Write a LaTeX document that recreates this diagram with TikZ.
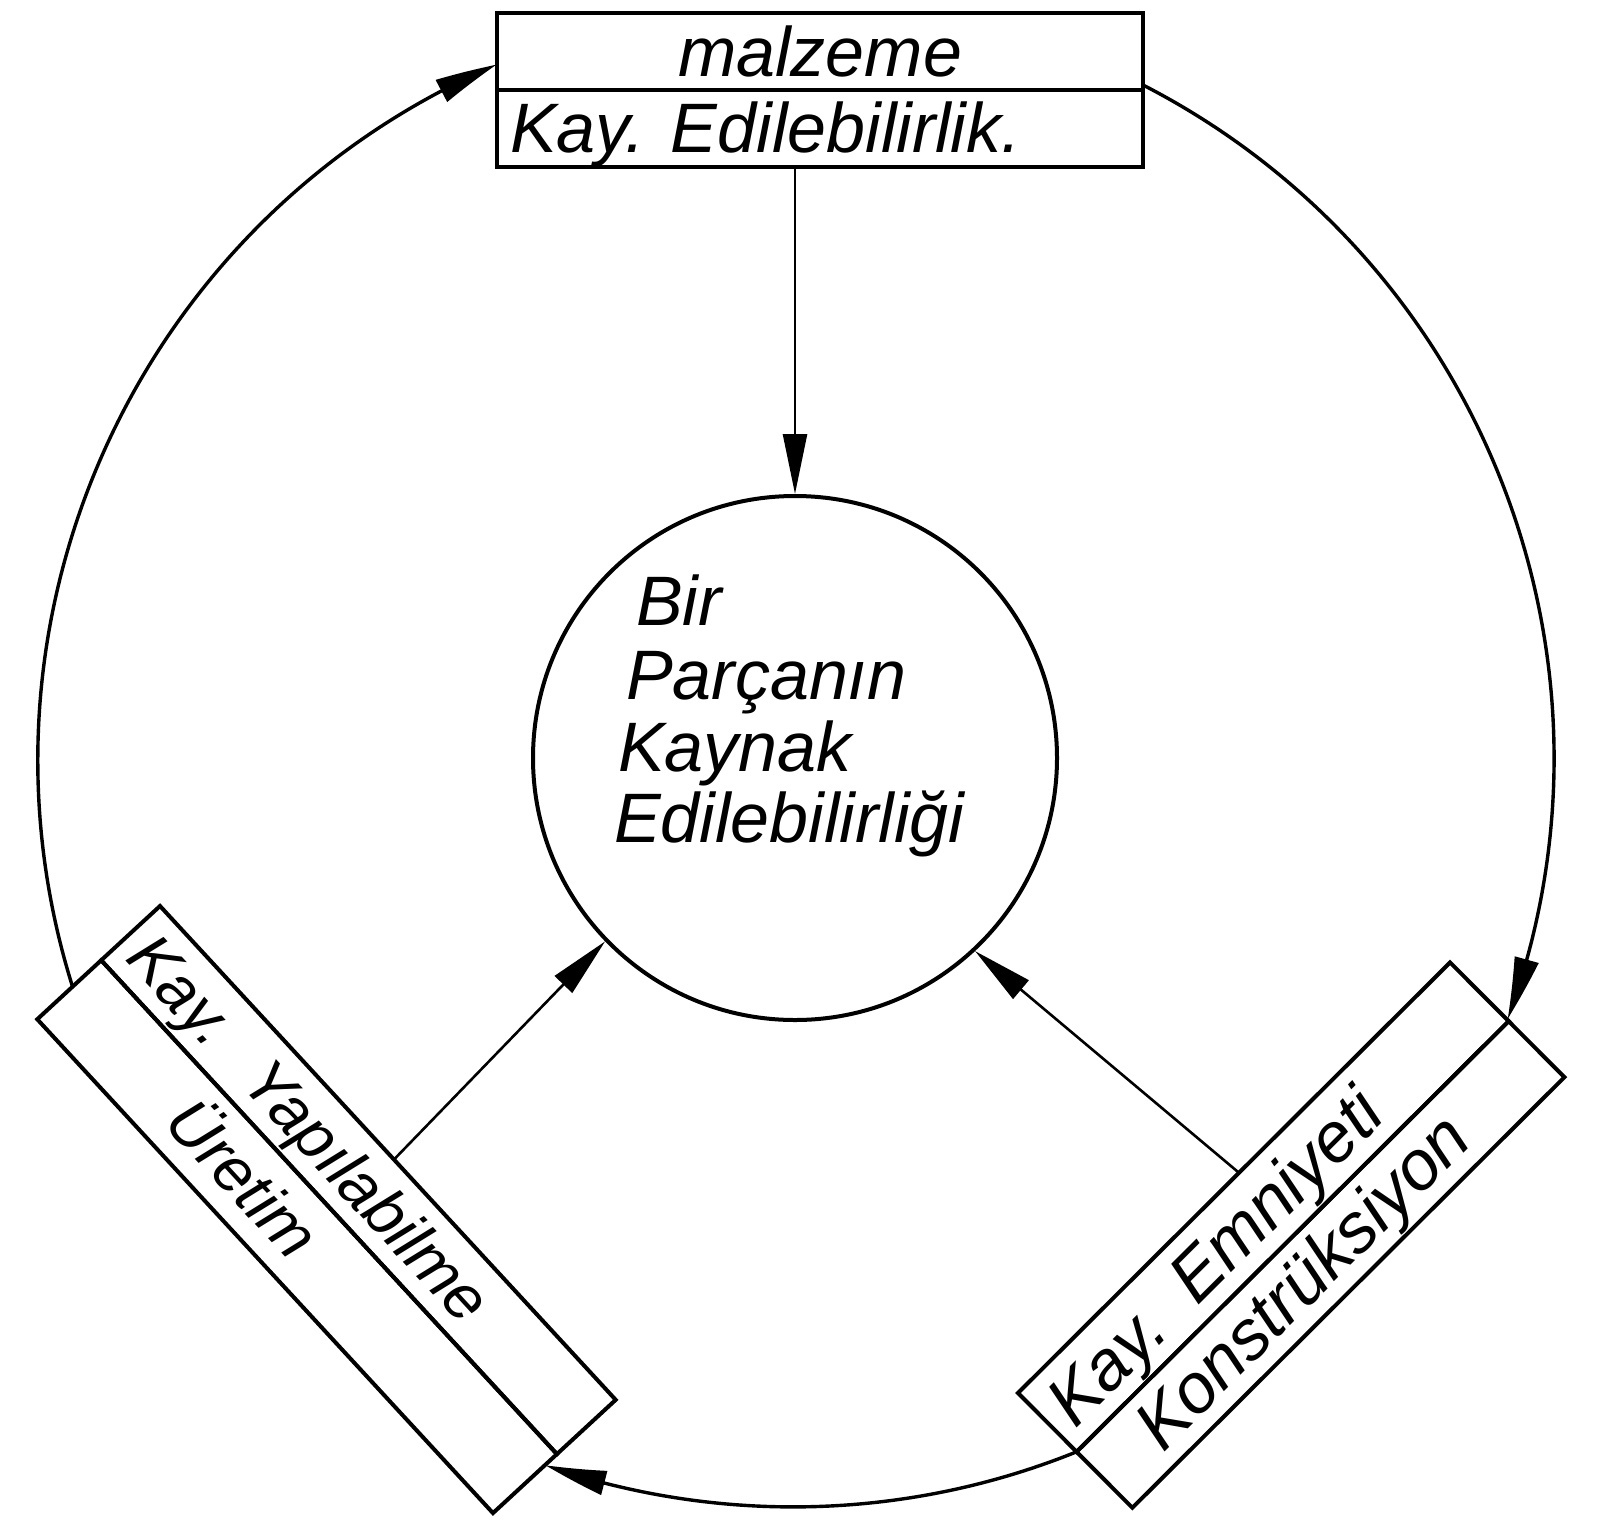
\documentclass[tikz,border=0pt]{standalone}
\usepackage{fontspec}
\setmainfont{Liberation Sans}
\usetikzlibrary{arrows.meta,bending,calc}
\begin{document}
\begin{tikzpicture}[x=1pt,y=-1pt,
  boxline/.style={draw, line width=4pt, inner sep=0pt, outer sep=0pt},
  lbl/.style={inner sep=0pt, font=\itshape\fontsize{70}{70}\selectfont},
  lbls/.style={inner sep=0pt, font=\itshape\fontsize{64}{64}\selectfont},
  conn/.style={line width=2.6pt, -{Triangle[length=60pt,width=24pt]}},
  ring/.style={line width=3.4pt, -{Triangle[length=62pt,width=24pt,bend]}}]
\path[use as bounding box, fill=white] (0,0) rectangle (1601,1534);

% top box
\node[boxline, lbl, minimum width=646pt, minimum height=77pt] (mal) at (820,51.5) {malzeme};
\node[boxline, minimum width=646pt, minimum height=77pt] (ked) at (820,128.5) {};
\node[lbl, anchor=base west] (kedt) at (510,152) {Kay. Edilebilirlik.};

% centre circle
\node[draw, circle, line width=4pt, minimum size=524pt, inner sep=0pt] (inner) at (795,758) {};
\node[lbl, anchor=base west] (c1) at (636,625) {Bir};
\node[lbl, anchor=base west] (c2) at (626,699) {Parçanın};
\node[lbl, anchor=base west] (c3) at (618,771) {Kaynak};
\node[lbl, anchor=base west] (c4) at (614,842) {Edilebilirliği};

% left box
\begin{scope}[shift={(160,906)}, rotate=-47.3]
  \node[boxline, transform shape, anchor=north west, minimum width=672pt, minimum height=80pt] (lyA) at (0,0) {};
  \node[boxline, transform shape, anchor=north west, minimum width=672pt, minimum height=87pt] (lyB) at (0,80) {};
  \node[lbls, transform shape, anchor=base west] (ly1) at (15,63) {Kay.};
  \node[lbls, transform shape, anchor=base west] (ly2) at (185,63) {Yapılabilme};
  \node[lbls, transform shape, anchor=base west] (ly3) at (162,146) {Üretim};
  \coordinate (lyTop) at (0,119);
  \coordinate (lyEnd) at (672,95);
  \coordinate (lyConn) at (345,0);
\end{scope}

% right box
\begin{scope}[shift={(1018,1393)}, rotate=44.9]
  \node[boxline, transform shape, anchor=north west, minimum width=610pt, minimum height=83pt] (keA) at (0,0) {};
  \node[boxline, transform shape, anchor=north west, minimum width=610pt, minimum height=79pt] (keB) at (0,83) {};
  \node[lbl, transform shape, anchor=base west] (ke1) at (15,66) {Kay.};
  \node[lbl, transform shape, anchor=base west] (ke2) at (188,66) {Emniyeti};
  \node[lbl, transform shape, anchor=base west] (ke3) at (60,145) {Konstrüksiyon};
  \coordinate (keStart) at (0,83);
  \coordinate (keEnd) at (610,83);
  \coordinate (keConn) at (312,0);
\end{scope}

% connectors to centre
\draw[conn] (inner.north |- ked.south) -- (inner.north);
\draw[conn] (lyConn) -- (inner.224);
\draw[conn] (keConn) -- (inner.313);

% outer ring
\coordinate (malR) at ($(mal.south east)+(0,-5)$);
\draw[ring] (lyTop) arc[start angle=162.6, end angle=246.8, radius=757];
\draw[ring] (malR) arc[start angle=297.2, end angle=380.15, radius=757];
\draw[ring] (keStart) arc[start angle=68, end angle=109.1, radius=757];
\end{tikzpicture}
\end{document}
